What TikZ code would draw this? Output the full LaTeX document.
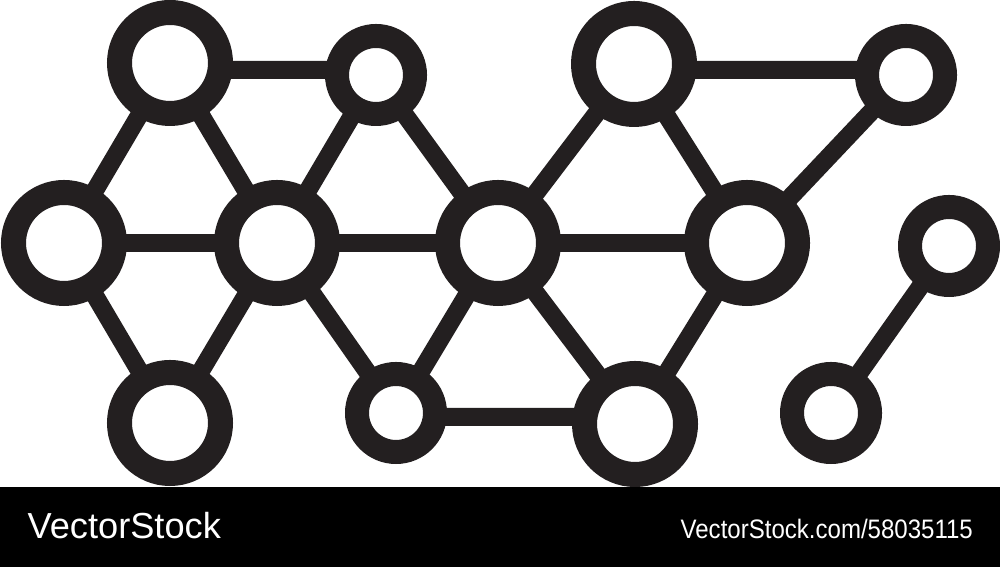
\documentclass[tikz,border=0pt]{standalone}
\usepackage{fontspec}
\setmainfont{Liberation Sans}
\usetikzlibrary{backgrounds}
\definecolor{ink}{HTML}{231F20}
\tikzset{%
  big/.style={circle,draw=ink,fill=white,line width=2.5mm,minimum size=10.1mm,inner sep=0pt},
  small/.style={circle,draw=ink,fill=white,line width=2.4mm,minimum size=7.8mm,inner sep=0pt},
  bond/.style={draw=ink,line width=1.8mm},
  footer/.style={text=white,inner sep=0pt,anchor=base west}
}

\begin{document}
\begin{tikzpicture}
  \useasboundingbox (0,0) rectangle (10,5.67);

  % atoms
  \node [big]   (a) at (1.70,5.04) {};
  \node [small] (b) at (3.76,4.92) {};
  \node [big]   (c) at (6.34,5.03) {};
  \node [small] (d) at (9.06,4.92) {};
  \node [big]   (e) at (0.64,3.24) {};
  \node [big]   (f) at (2.77,3.24) {};
  \node [big]   (g) at (4.98,3.24) {};
  \node [big]   (h) at (7.47,3.24) {};
  \node [small] (i) at (9.49,3.21) {};
  \node [big]   (j) at (1.70,1.44) {};
  \node [small] (k) at (3.96,1.54) {};
  \node [big]   (l) at (6.35,1.43) {};
  \node [small] (m) at (8.31,1.54) {};

  % bonds
  \begin{scope}[on background layer]
    \foreach \u/\v in {a/e,a/f,b/f,b/g,c/g,c/h,d/h,e/f,f/g,g/h,e/j,f/j,f/k,g/k,g/l,h/l,i/m}
      \draw [bond] (\u.center) -- (\v.center);
    % level ones
    \draw [bond] ([yshift=-0.07cm]a.center) -- ([yshift=0.05cm]b.center);
    \draw [bond] ([yshift=-0.06cm]c.center) -- ([yshift=0.05cm]d.center);
    \draw [bond] ([yshift=-0.04cm]k.center) -- ([yshift=0.07cm]l.center);
  \end{scope}

  % black strip
  \fill [black] (0,0) rectangle (10,0.80);
  \node [footer,font=\fontsize{10.3pt}{12pt}\selectfont] (left) at (0.27,0.28) {VectorStock};
  \node [footer,font=\fontsize{7.6pt}{9pt}\selectfont,xscale=0.9] (right) at (6.80,0.28) {VectorStock.com/58035115};
\end{tikzpicture}
\end{document}
